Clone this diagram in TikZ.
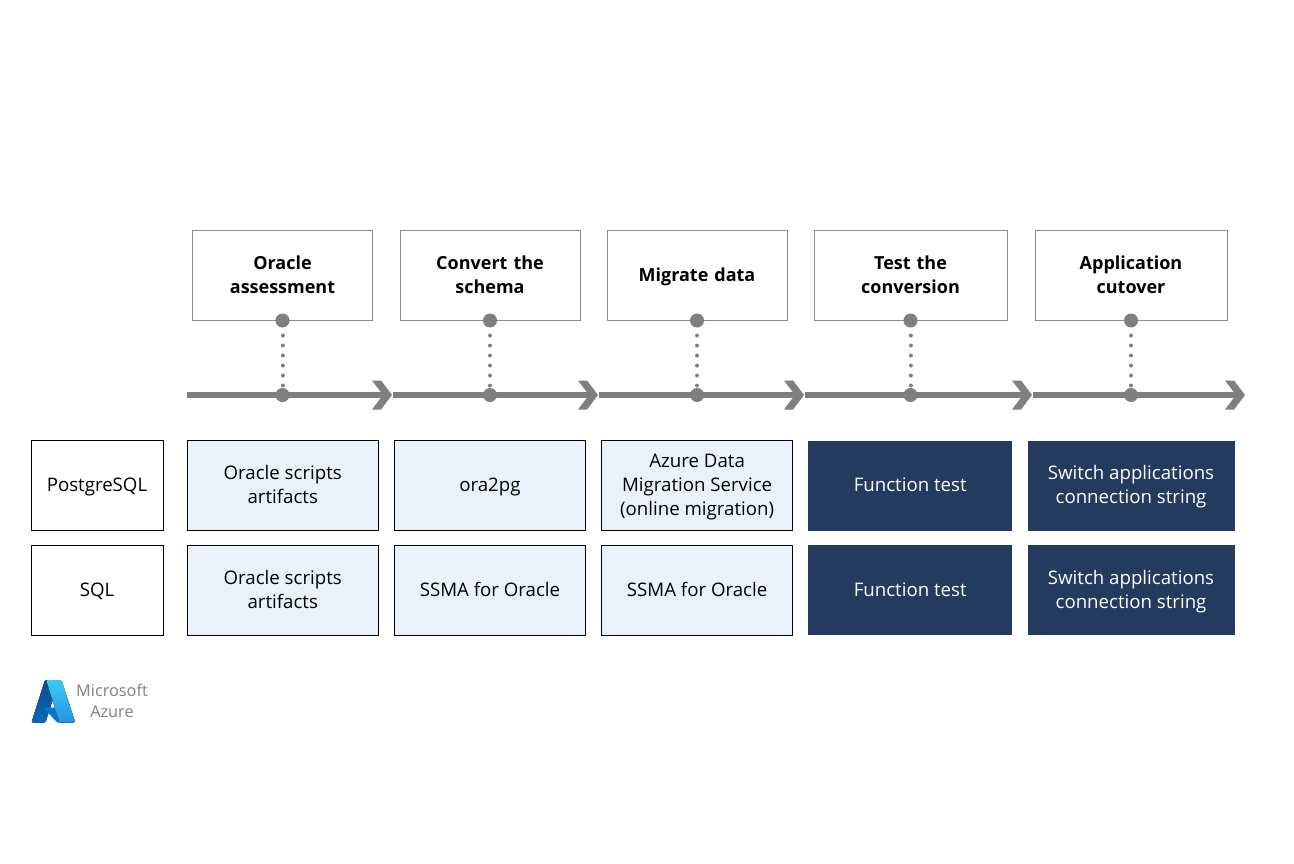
\documentclass[tikz,border=0pt]{standalone}
\usepackage{fontspec}
\setmainfont{Open Sans}
\usetikzlibrary{positioning}
\definecolor{trackgray}{HTML}{7F7F7F}
\definecolor{lightblue}{HTML}{EAF1FA}
\definecolor{navy}{HTML}{243A5E}
\definecolor{azdarktop}{HTML}{114A8B}
\definecolor{azdarkend}{HTML}{0669BC}
\definecolor{azmid}{HTML}{0078D4}
\definecolor{azlighttop}{HTML}{3CCBF4}
\definecolor{azlightend}{HTML}{2892DF}
\newcommand{\tstrut}{\rule[-5.4pt]{0pt}{20pt}}

\begin{document}
\begin{tikzpicture}[x=0.75pt,y=-0.75pt,
        every node/.style={align=center,inner sep=0pt,outer sep=0pt,font=\fontsize{14}{18}\selectfont},
        step box/.style={draw=black!45,line width=0.75pt,minimum height=67.5pt,text width=135pt,font=\bfseries\fontsize{13.5}{18}\selectfont},
        row name/.style={draw=black,line width=0.75pt,minimum width=99pt,minimum height=67.5pt},
        tool box/.style={draw=black,line width=0.75pt,fill=lightblue,minimum width=143.6pt,minimum height=67.5pt},
        test box/.style={fill=navy,text=white,minimum width=153.2pt,minimum height=67.5pt},
        cut box/.style={fill=navy,text=white,minimum width=155.25pt,minimum height=67.5pt},
        track dot/.style={circle,fill=trackgray,minimum size=10.5pt},
        track/.style={draw=trackgray,line width=4.8pt,shorten >=6.5pt},
        dot link/.style={draw=trackgray,line width=3pt,line cap=round,dash pattern=on 0.01pt off 7.49pt,dash phase=1.5pt},
        node distance=11.8pt]

    \useasboundingbox (0,0) rectangle (1294,863);

    % steps
    \node[step box] (assess) at (282.5,275.5) {\tstrut Oracle\\assessment\strut};
    \node[step box] (schema) at (490,275.5) {\tstrut Convert the\\schema\strut};
    \node[step box] (data) at (697,275.5) {\tstrut Migrate data};
    \node[step box,text width=144.75pt] (test) at (910.5,275.5) {\tstrut Test the\\conversion\strut};
    \node[step box,text width=144pt] (cutover) at (1131,275.5) {\tstrut Application\\cutover\strut};

    % track
    \foreach \name/\from/\to in {a/187/392,b/393/598,c/599/804,d/805/1032,e/1033/1245}{
        \coordinate (s\name) at (\from,395);
        \coordinate (t\name) at (\to,395);
        \draw[track] (s\name) -- (t\name);
        \fill[trackgray] (t\name) ++(-20,-14.5) -- ++(9,0) -- (t\name) -- ++(-11,14.5) -- ++(-9,0) -- ++(11,-14.5) -- cycle;
    }

    % dots on boxes and on track
    \foreach \name in {assess,schema,data,test,cutover}{
        \node[track dot] (\name top) at (\name.south) {};
        \node[track dot] (\name low) at (\name top |- sa) {};
        \draw[dot link] (\name top) -- (\name low);
    }

    % first row
    \node[row name] (pg) at (97,485.5) {\tstrut PostgreSQL};
    \node[tool box,right=18pt of pg] (pgscripts) {\tstrut Oracle scripts\\artifacts\strut};
    \node[tool box,right=of pgscripts] (pgconvert) {\tstrut ora2pg};
    \node[tool box,right=of pgconvert] (pgmigrate) {\tstrut Azure Data\\Migration Service\\(online migration)\strut};
    \node[test box,right=11.4pt of pgmigrate] (pgtest) {\tstrut Function test};
    \node[cut box,right=11.4pt of pgtest] (pgcut) {\tstrut Switch applications\\connection string\strut};

    % second row
    \node[row name] (sql) at (97,590) {\tstrut SQL};
    \node[tool box,right=18pt of sql] (sqlscripts) {\tstrut Oracle scripts\\artifacts\strut};
    \node[tool box,right=of sqlscripts] (sqlconvert) {\tstrut SSMA for Oracle};
    \node[tool box,right=of sqlconvert] (sqlmigrate) {\tstrut SSMA for Oracle};
    \node[test box,right=11.4pt of sqlmigrate] (sqltest) {\tstrut Function test};
    \node[cut box,right=11.4pt of sqltest] (sqlcut) {\tstrut Switch applications\\connection string\strut};

    % logo
    \begin{scope}[shift={(29.4,676.7)},x=0.375pt,y=-0.385pt]
        \fill[top color=azdarktop,bottom color=azdarkend,rounded corners=1pt] (31,6.5) -- (59.4,6.5) -- (32,89.5) -- (4,89.5) -- cycle;
        \fill[azmid] (28,60.3) -- (71.2,60.3) -- (81.4,89.5) -- (56,89.5) -- cycle;
        \fill[top color=azlighttop,bottom color=azlightend,rounded corners=1pt] (33.6,6.5) -- (64,6.5) -- (92,89.5) -- (60,89.5) -- cycle;
    \end{scope}
    \node[text=black!50,font=\fontsize{12.2}{16}\selectfont] (azure) at (112,703) {\strut Microsoft\\Azure\strut};

\end{tikzpicture}
\end{document}
